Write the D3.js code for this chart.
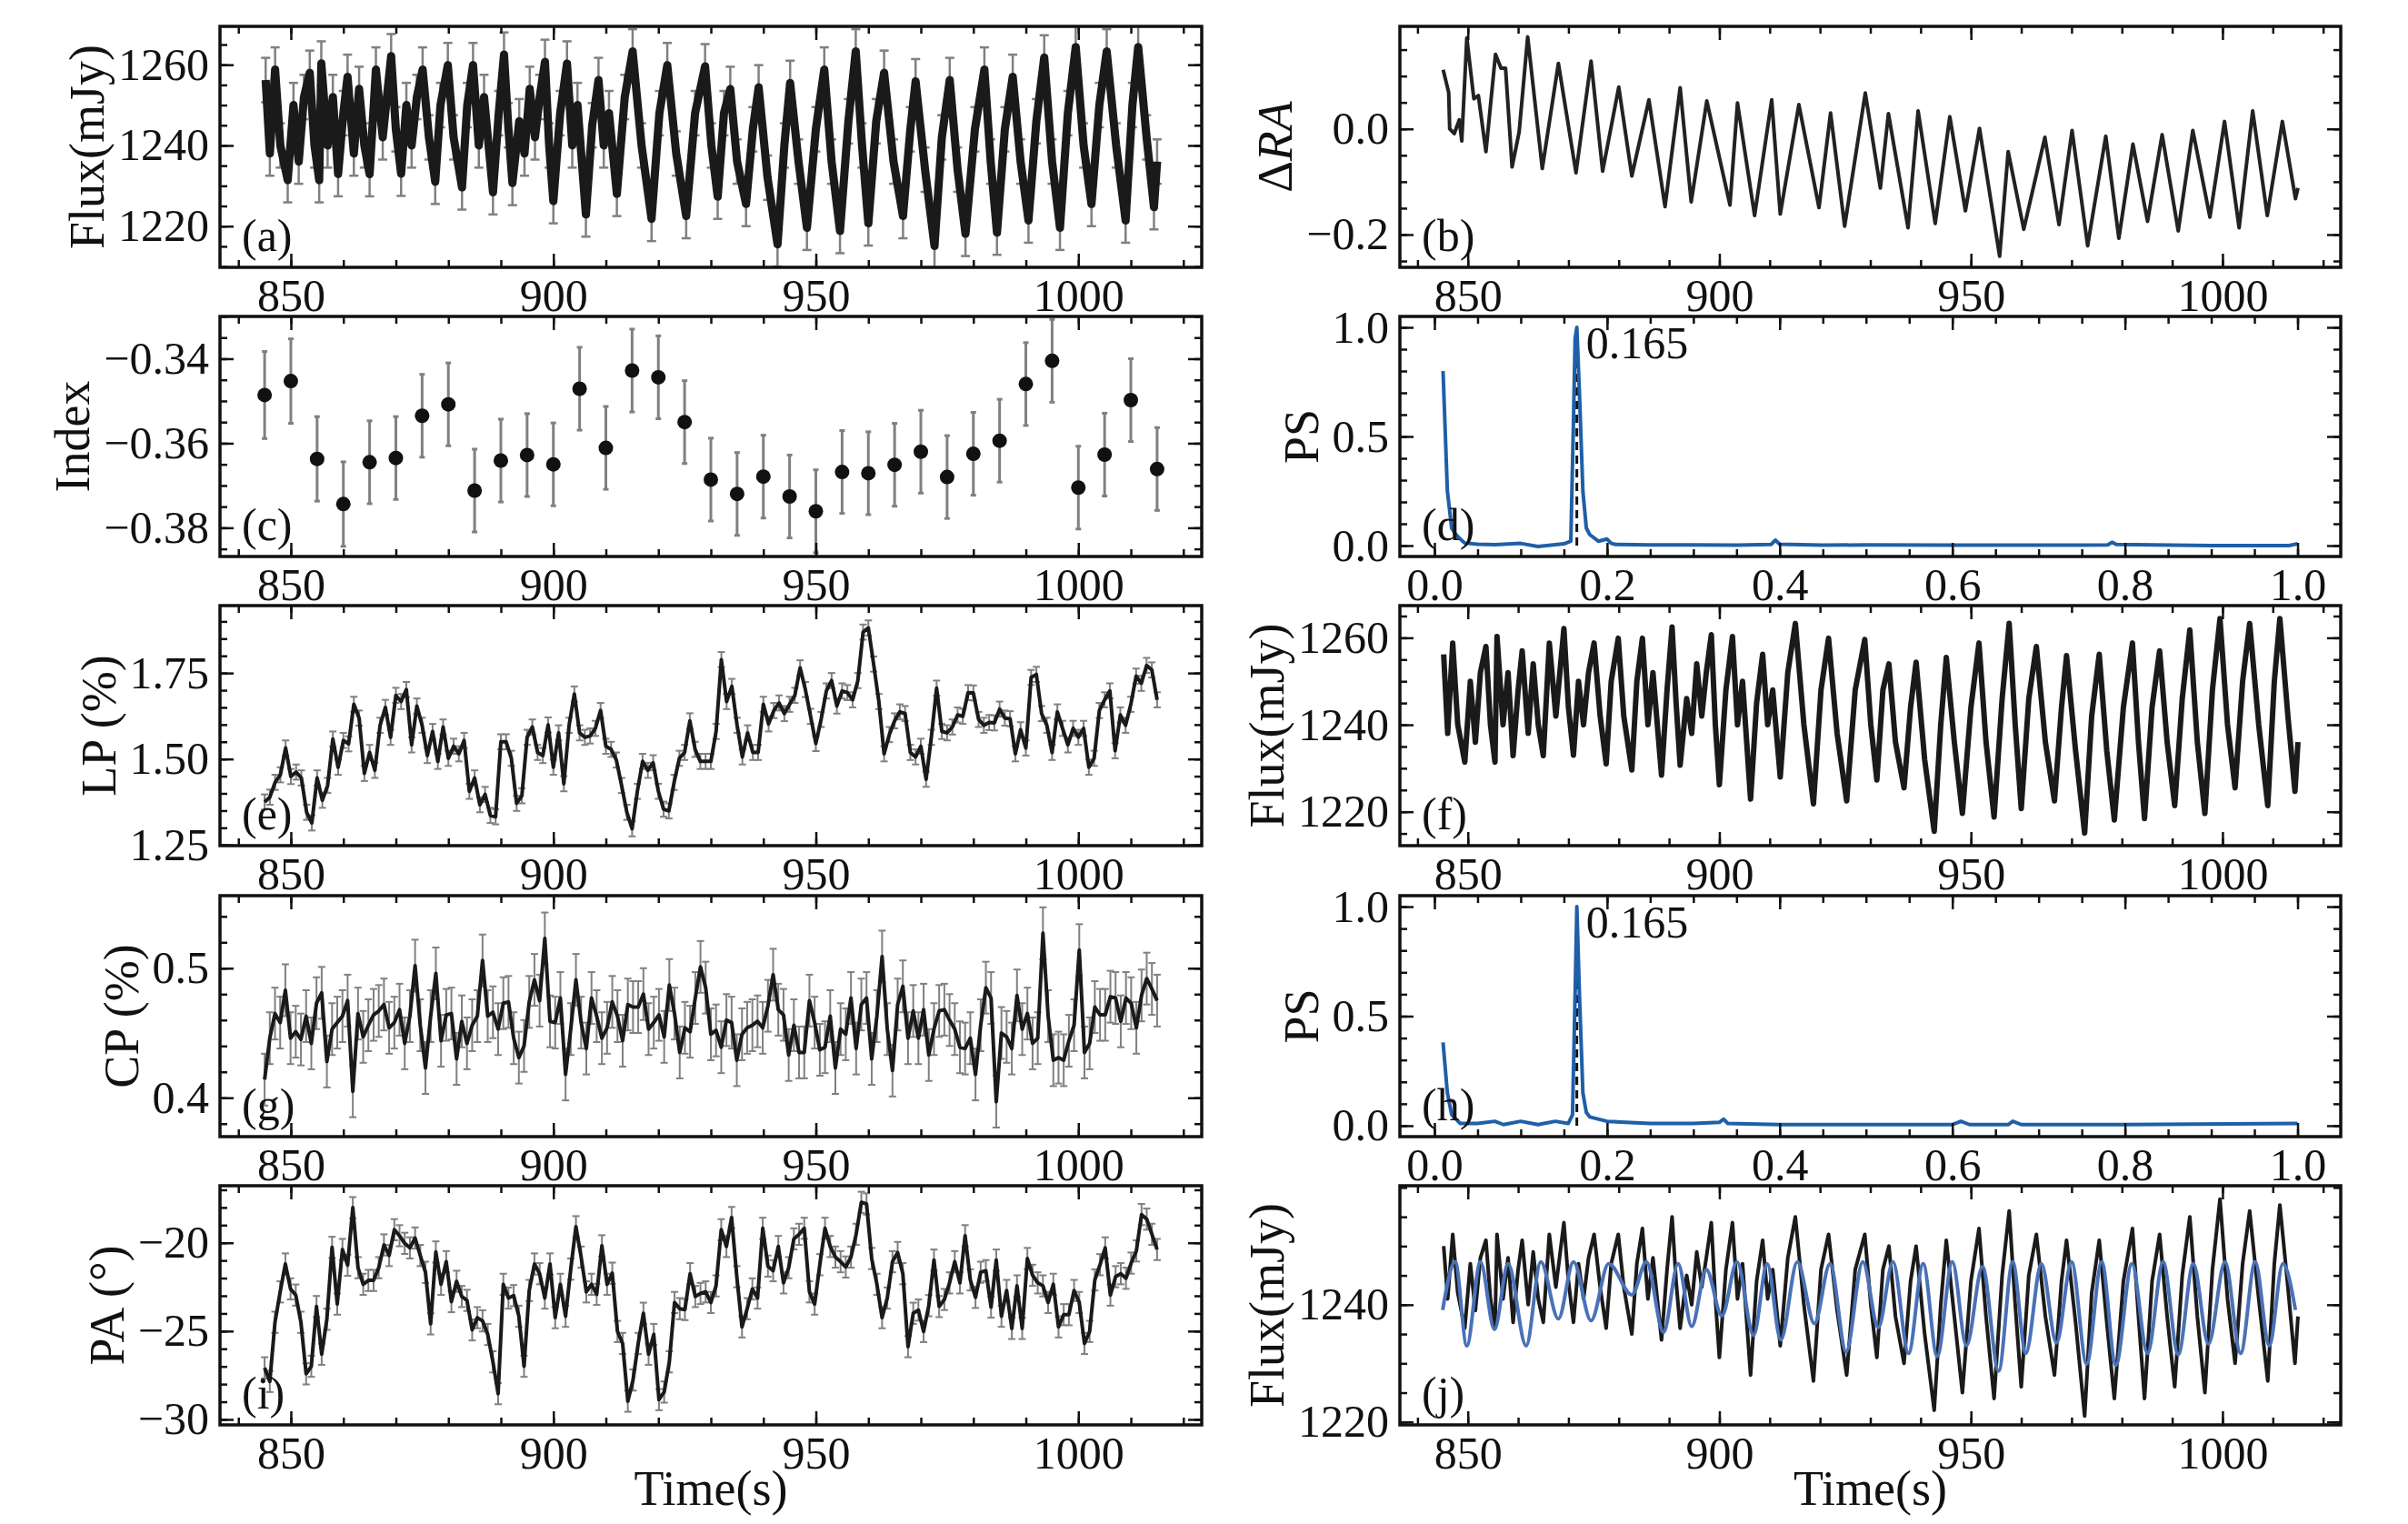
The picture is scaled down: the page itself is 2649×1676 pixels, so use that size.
<!DOCTYPE html>
<html>
<head>
<meta charset="utf-8">
<script src="https://cdn.jsdelivr.net/npm/d3@7"></script>
<style>
  body { margin: 0; background: #fff; }
  text { font-family: "Liberation Serif", "DejaVu Serif", serif; fill: #111; }
</style>
</head>
<body>
<svg id="fig" width="2649" height="1676"></svg>
<script>
// ---- data ----

// (a), (f) flux light curve: band extremes, mJy
const fluxTime = [845.2,846.0,847.0,848.0,849.4,850.5,851.5,852.5,853.6,854.5,855.4,855.8,857.0,858.0,859.0,860.0,860.8,862.0,863.0,864.0,865.0,866.2,867.5,869.1,870.0,871.0,872.0,873.0,874.0,875.1,876.3,877.5,878.5,879.9,881.0,882.6,883.6,884.7,885.8,886.8,888.5,889.6,890.6,891.4,892.2,893.5,894.5,895.5,896.5,897.4,898.4,899.2,900.0,901.3,902.6,903.6,904.6,906.2,907.4,908.6,909.6,910.6,912.1,913.6,915.1,916.8,918.7,920.2,921.7,923.4,925.3,927.0,928.9,930.1,931.3,932.5,933.7,935.0,936.7,938.0,939.1,940.8,942.7,944.0,945.1,946.7,948.3,950.0,951.6,953.0,954.6,956.2,957.6,958.8,960.0,961.5,963.0,964.8,966.6,968.0,969.0,970.8,972.6,974.0,975.5,977.0,978.5,980.3,982.1,983.3,984.5,986.0,987.5,989.0,990.5,992.0,993.5,995.0,996.5,998.0,999.5,1001.0,1002.5,1004.0,1005.4,1007.2,1009.0,1010.3,1011.4,1013.0,1014.4,1015.0];
const fluxVal = [1256.2,1238,1258.8,1240,1231.4,1250,1236,1252,1258.0,1240,1231.4,1260.3,1240,1252,1232.9,1248,1257.0,1238,1254,1240,1232.9,1258.8,1242,1262.1,1244,1233.0,1250,1240,1252,1258.8,1242,1231.0,1250,1259.9,1242,1229.6,1250,1259.9,1240,1252,1228.4,1248,1262.5,1245,1230.7,1246,1238,1254,1242,1252,1260.7,1240,1226.2,1248,1260.3,1240,1250,1222.9,1245,1256.2,1240,1248,1228.0,1252,1263.3,1240,1221.8,1248,1259.9,1238,1222.5,1248,1259.6,1240,1227.3,1248,1254.0,1236,1225.5,1244,1254.4,1232,1215.5,1240,1255.5,1236,1219.6,1244,1258.8,1236,1218.8,1246,1263.3,1240,1220.7,1246,1258.0,1236,1222.5,1244,1255.9,1234,1215.1,1242,1256.2,1234,1218.1,1244,1258.8,1236,1218.4,1244,1257.0,1236,1221.4,1246,1261.8,1236,1219.6,1248,1264.4,1240,1225.5,1250,1263.3,1240,1221.4,1250,1264.4,1242,1224.7,1236];
const fluxErr = 2.5;

// (j) smoothed flux (black), same time stamps
const fluxSmooth = [1250,1241,1252,1242,1236,1247,1239,1248,1251,1241,1236,1252,1241,1248,1237,1246,1251,1240,1249,1241,1237,1252,1243,1254,1244,1237,1247,1241,1248,1252,1243,1236,1247,1252,1243,1235,1247,1253,1241,1248,1234,1246,1255,1244,1236,1245,1240,1249,1243,1248,1254,1241,1231,1246,1254,1241,1247,1228,1244,1251,1241,1246,1233,1248,1255,1240,1227,1246,1252,1239,1228,1246,1252,1240,1231,1246,1250,1238,1230,1244,1250,1235,1222,1240,1251,1238,1225,1244,1253,1238,1224,1245,1256,1240,1226,1245,1252,1238,1228,1244,1251,1237,1221,1242,1251,1237,1224,1244,1253,1238,1224,1244,1252,1238,1226,1245,1255,1238,1225,1246,1258,1241,1230,1247,1256,1241,1227,1247,1257,1243,1230,1238];

// (b) Delta RA
const raTime = [845.1,846.2,846.4,847.3,848.3,848.8,849.8,851.2,852.1,853.6,855.5,856.6,857.5,858.8,860.2,861.9,864.8,868.0,871.5,874.5,876.8,880.0,882.6,886.0,889.2,892.2,894.4,897.5,902.1,903.6,907.0,910.4,912.1,915.8,919.8,922.1,924.9,929.0,932.0,933.6,937.5,939.5,942.9,945.8,948.9,951.7,955.7,957.4,960.5,964.7,967.5,970.1,973.2,976.8,979.4,982.2,985.1,988.0,991.2,994.1,997.5,1000.4,1003.3,1006.0,1008.9,1011.9,1014.5,1015.0];
const raVal = [0.112,0.069,0.0,-0.009,0.017,-0.023,0.172,0.057,0.063,-0.043,0.141,0.115,0.115,-0.072,-0.006,0.174,-0.075,0.124,-0.083,0.128,-0.08,0.079,-0.089,0.055,-0.147,0.078,-0.138,0.053,-0.144,0.049,-0.164,0.055,-0.161,0.046,-0.149,0.03,-0.184,0.068,-0.112,0.029,-0.187,0.034,-0.179,0.023,-0.155,0.001,-0.241,-0.043,-0.19,-0.016,-0.181,-0.003,-0.221,-0.014,-0.207,-0.029,-0.175,-0.011,-0.193,-0.003,-0.167,0.014,-0.187,0.034,-0.164,0.014,-0.132,-0.112];

// (c) spectral index, 5 s bins
const indexTime = [845,850,855,860,865,870,875,880,885,890,895,900,905,910,915,920,925,930,935,940,945,950,955,960,965,970,975,980,985,990,995,1000,1005,1010,1015];
const indexVal = [-0.3486,-0.3453,-0.3637,-0.3744,-0.3645,-0.3635,-0.3535,-0.3508,-0.3712,-0.3641,-0.3628,-0.365,-0.3471,-0.3611,-0.3428,-0.3444,-0.355,-0.3686,-0.372,-0.3679,-0.3726,-0.3761,-0.3668,-0.3671,-0.3651,-0.362,-0.368,-0.3625,-0.3594,-0.346,-0.3405,-0.3705,-0.3627,-0.3498,-0.3661];
const indexErr = [0.0103,0.0100,0.0100,0.0100,0.0098,0.0098,0.0098,0.0098,0.0098,0.0098,0.0098,0.0098,0.0098,0.0098,0.0098,0.0098,0.0098,0.0098,0.0098,0.0098,0.0098,0.0098,0.0098,0.0098,0.0098,0.0098,0.0098,0.0098,0.0098,0.0098,0.0098,0.0098,0.0098,0.0098,0.0098];

// (e) linear polarisation %, ~1 s samples from 845 s to 1015 s
const lpVal = [1.375,1.389,1.432,1.454,1.532,1.449,1.462,1.445,1.345,1.314,1.445,1.380,1.423,1.558,1.476,1.554,1.544,1.659,1.619,1.458,1.519,1.467,1.598,1.650,1.563,1.685,1.667,1.702,1.541,1.654,1.598,1.510,1.580,1.493,1.593,1.502,1.537,1.515,1.554,1.406,1.445,1.367,1.397,1.336,1.332,1.550,1.550,1.502,1.371,1.393,1.563,1.593,1.519,1.510,1.599,1.476,1.576,1.428,1.598,1.689,1.576,1.563,1.567,1.589,1.641,1.537,1.528,1.497,1.423,1.345,1.297,1.406,1.493,1.467,1.489,1.406,1.354,1.349,1.432,1.502,1.519,1.611,1.528,1.493,1.493,1.493,1.580,1.789,1.667,1.711,1.598,1.506,1.576,1.519,1.519,1.659,1.602,1.641,1.663,1.632,1.659,1.685,1.765,1.702,1.624,1.545,1.615,1.698,1.728,1.654,1.698,1.693,1.672,1.728,1.869,1.881,1.776,1.667,1.515,1.571,1.611,1.637,1.632,1.519,1.506,1.537,1.441,1.563,1.706,1.580,1.576,1.593,1.628,1.624,1.693,1.692,1.615,1.598,1.606,1.605,1.645,1.619,1.617,1.515,1.585,1.532,1.737,1.746,1.632,1.598,1.519,1.637,1.589,1.541,1.589,1.563,1.589,1.476,1.502,1.641,1.672,1.698,1.524,1.628,1.598,1.659,1.741,1.720,1.772,1.759,1.672];
const lpErr = 0.022;

// (g) circular polarisation %
const cpVal = [0.414,0.446,0.465,0.458,0.483,0.446,0.451,0.445,0.463,0.442,0.473,0.481,0.428,0.453,0.458,0.463,0.475,0.405,0.465,0.447,0.456,0.464,0.467,0.472,0.454,0.458,0.468,0.442,0.463,0.502,0.456,0.423,0.463,0.496,0.444,0.464,0.465,0.430,0.459,0.442,0.456,0.463,0.506,0.463,0.466,0.453,0.473,0.474,0.446,0.431,0.440,0.474,0.491,0.475,0.523,0.459,0.458,0.477,0.418,0.453,0.491,0.458,0.438,0.477,0.463,0.446,0.454,0.474,0.463,0.444,0.472,0.470,0.470,0.480,0.453,0.458,0.464,0.447,0.487,0.465,0.435,0.454,0.451,0.477,0.501,0.485,0.449,0.452,0.439,0.460,0.458,0.429,0.449,0.454,0.456,0.459,0.454,0.471,0.495,0.468,0.464,0.433,0.456,0.435,0.435,0.475,0.458,0.437,0.439,0.463,0.423,0.453,0.449,0.477,0.438,0.472,0.477,0.430,0.463,0.509,0.453,0.421,0.472,0.486,0.446,0.467,0.446,0.468,0.433,0.453,0.467,0.468,0.460,0.453,0.439,0.438,0.446,0.418,0.456,0.485,0.477,0.397,0.450,0.447,0.438,0.479,0.453,0.465,0.442,0.446,0.527,0.463,0.429,0.431,0.429,0.444,0.456,0.514,0.435,0.442,0.470,0.464,0.464,0.478,0.477,0.459,0.477,0.473,0.454,0.479,0.492,0.484,0.475];
const cpErr = 0.02;

// (i) polarisation angle, degrees
const paVal = [-27.08,-27.85,-24.50,-22.78,-21.20,-22.61,-22.96,-24.50,-27.42,-26.99,-23.61,-26.31,-24.33,-20.26,-23.47,-20.38,-21.27,-18.01,-21.41,-22.35,-22.13,-22.13,-21.41,-20.12,-20.72,-19.26,-19.60,-20.03,-20.29,-19.73,-20.72,-21.67,-24.59,-20.52,-22.35,-21.07,-23.33,-22.18,-23.04,-23.26,-24.93,-24.24,-24.42,-25.19,-26.74,-28.54,-22.35,-23.13,-22.99,-24.16,-26.99,-22.70,-21.20,-21.75,-23.13,-21.20,-24.24,-22.35,-24.16,-21.49,-19.09,-20.81,-22.78,-22.35,-22.92,-20.17,-22.35,-21.72,-25.02,-25.70,-28.97,-27.77,-25.70,-23.99,-26.31,-25.19,-28.88,-28.45,-26.74,-23.38,-23.73,-23.78,-21.75,-23.04,-22.87,-22.78,-23.38,-22.44,-19.26,-20.21,-18.57,-21.92,-24.76,-23.73,-22.61,-23.13,-19.18,-21.32,-21.58,-20.21,-22.27,-21.41,-19.78,-19.52,-19.18,-22.78,-23.47,-21.24,-19.18,-20.21,-20.81,-21.07,-21.37,-20.81,-19.52,-17.71,-17.80,-20.89,-22.35,-24.24,-23.13,-21.07,-20.55,-21.75,-25.88,-23.99,-23.81,-25.02,-23.56,-20.98,-23.61,-23.21,-22.27,-21.07,-22.27,-19.60,-22.10,-23.09,-21.67,-21.58,-23.64,-20.98,-24.16,-22.70,-24.85,-22.44,-24.85,-20.89,-21.84,-22.27,-22.44,-23.38,-22.35,-24.76,-24.07,-24.07,-22.70,-23.38,-25.70,-25.02,-22.10,-21.24,-20.29,-22.96,-21.92,-21.75,-22.01,-21.15,-20.46,-18.40,-18.66,-19.52,-20.38];
const paErr = 0.6;

// (d) and (h) normalised power spectra
const psFreqD = [0.01,0.015,0.02,0.025,0.03,0.035,0.05,0.07,0.1,0.12,0.15,0.158,0.161,0.163,0.165,0.168,0.172,0.176,0.18,0.19,0.2,0.205,0.21,0.25,0.3,0.35,0.39,0.395,0.4,0.45,0.5,0.6,0.7,0.78,0.785,0.79,0.9,0.99,1.0];
const psPowD = [0.80,0.25,0.08,0.05,0.03,0.012,0.006,0.004,0.01,-0.004,0.008,0.02,0.55,0.95,1.0,0.7,0.25,0.08,0.05,0.02,0.03,0.01,0.005,0.003,0.003,0.002,0.005,0.025,0.006,0.002,0.003,0.002,0.002,0.003,0.015,0.005,0.0,0.0,0.008];
const psFreqH = [0.01,0.015,0.02,0.03,0.05,0.07,0.08,0.1,0.12,0.14,0.155,0.16,0.163,0.165,0.168,0.172,0.176,0.18,0.2,0.25,0.3,0.33,0.335,0.34,0.4,0.5,0.6,0.61,0.62,0.665,0.67,0.68,0.8,1.0];
const psPowH = [0.38,0.15,0.05,0.01,0.01,0.02,0.005,0.02,0.005,0.02,0.01,0.05,0.6,1.0,0.6,0.15,0.06,0.04,0.02,0.01,0.01,0.015,0.03,0.01,0.005,0.005,0.005,0.02,0.005,0.005,0.02,0.005,0.005,0.01];
const peakFreq = 0.165;

// (j) model curve (blue)
const modelTime = [845,847.5,849.8,852.5,855.3,858,861.6,864.5,868,871,874.5,878,882.6,885.5,888.9,891.8,894.5,897.4,900.5,903.5,906.8,909.5,912.2,915.5,918.9,922,925.2,928.5,931.6,934.5,937.6,940.5,943.3,946.3,949.1,952.3,955.5,958.3,960.9,964,967,970,973,976,978.8,982,985.1,988.2,991.2,994.2,997.2,1000.5,1003.6,1006.5,1009.3,1012,1014.5];
const modelVal = [1239.1,1247.3,1233,1247.3,1235.8,1247,1233,1247.3,1237.6,1247.3,1237.3,1247,1241.7,1247.3,1235.3,1247,1236.3,1246,1238.1,1247.3,1234.8,1247,1234,1247.3,1236.8,1247,1232,1247.3,1236.1,1247.3,1231.7,1247,1231.2,1247.3,1233,1246.5,1228.7,1247.3,1231.7,1247,1233.5,1247.3,1229.9,1247.3,1229.7,1247,1231.7,1247.3,1231.5,1247,1233.3,1247.3,1231.7,1247.3,1233,1247,1239.1];

// ---- drawing ----
const svg = d3.select("#fig");
const FS = 50;
const COLS = [[242, 1322], [1540, 2575]];
const ROWS = [[29, 294], [348, 612], [666, 930], [985, 1250], [1304, 1567]];
const TIME_DOMAIN = [836.5, 1023.5];
const PS_DOMAIN = [-0.04, 1.05];
const evenTimes = n => d3.range(n).map(i => 845 + i * 170 / (n - 1));
let clipId = 0;

function panel(col, row, o) {
  const [x0, x1] = COLS[col], [y0, y1] = ROWS[row];
  const x = d3.scaleLinear().domain(o.xd).range([x0, x1]);
  const y = d3.scaleLinear().domain(o.yd).range([y1, y0]);
  const g = svg.append("g");
  const id = "clip" + (clipId++);
  g.append("clipPath").attr("id", id).append("rect")
    .attr("x", x0).attr("y", y0).attr("width", x1 - x0).attr("height", y1 - y0);
  const plot = g.append("g").attr("clip-path", `url(#${id})`);

  const ax = (gen, tr, vals, size, fmt) => {
    const a = g.append("g").attr("transform", tr)
      .call(gen.tickValues(vals).tickSizeInner(-size).tickSizeOuter(0).tickPadding(12).tickFormat(fmt));
    a.select(".domain").remove();
    a.selectAll("line").attr("stroke", "#111").attr("stroke-width", 2.5);
    a.selectAll("text").style("font-size", FS + "px").style("font-family", "Liberation Serif");
    return a;
  };
  const none = () => "";
  ax(d3.axisBottom(x), `translate(0,${y1})`, o.xMajor, 15, o.xFmt);
  ax(d3.axisBottom(x), `translate(0,${y1})`, o.xMinor, 8, none);
  ax(d3.axisTop(x), `translate(0,${y0})`, o.xMajor, 15, none);
  ax(d3.axisTop(x), `translate(0,${y0})`, o.xMinor, 8, none);
  const yl = ax(d3.axisLeft(y), `translate(${x0},0)`, o.yMajor, 15, o.yFmt);
  ax(d3.axisLeft(y), `translate(${x0},0)`, o.yMinor, 8, none);
  ax(d3.axisRight(y), `translate(${x1},0)`, o.yMajor, 15, none);
  ax(d3.axisRight(y), `translate(${x1},0)`, o.yMinor, 8, none);

  g.append("rect").attr("x", x0).attr("y", y0).attr("width", x1 - x0).attr("height", y1 - y0)
    .attr("fill", "none").attr("stroke", "#111").attr("stroke-width", 3.5);

  // y label sits just left of the tick labels, like matplotlib
  const bb = yl.node().getBBox();
  const lab = g.append("text").attr("text-anchor", "middle")
    .attr("transform", `translate(${x0 + bb.x - 16},${(y0 + y1) / 2}) rotate(-90)`)
    .style("font-size", (FS + 4) + "px");
  o.label(lab);

  g.append("text").attr("x", x0 + 24).attr("y", y1 - 18).style("font-size", FS + "px").text(o.tag);
  return { x, y, plot };
}

function errLines(p, xs, ys, errs, cap, w) {
  const e = p.plot.append("g").attr("stroke", "#808080").attr("stroke-width", w);
  xs.forEach((t, i) => {
    const er = Array.isArray(errs) ? errs[i] : errs;
    const X = p.x(t), Ya = p.y(ys[i] - er), Yb = p.y(ys[i] + er);
    e.append("line").attr("x1", X).attr("x2", X).attr("y1", Ya).attr("y2", Yb);
    e.append("line").attr("x1", X - cap).attr("x2", X + cap).attr("y1", Ya).attr("y2", Ya);
    e.append("line").attr("x1", X - cap).attr("x2", X + cap).attr("y1", Yb).attr("y2", Yb);
  });
}

function line(p, xs, ys, color, w) {
  p.plot.append("path")
    .attr("d", d3.line().x((d, i) => p.x(xs[i])).y(d => p.y(d))(ys))
    .attr("fill", "none").attr("stroke", color).attr("stroke-width", w)
    .attr("stroke-linejoin", "round");
}

const tMaj = [850, 900, 950, 1000], tMin = d3.range(840, 1021, 10);
const psMaj = [0, 0.2, 0.4, 0.6, 0.8, 1.0], psMin = d3.range(0, 1.001, 0.05);
const fluxLabel = t => t.text("Flux(mJy)");
const timeAxes = { xd: TIME_DOMAIN, xMajor: tMaj, xMinor: tMin, xFmt: d3.format("d") };
const psAxes = { xd: PS_DOMAIN, xMajor: psMaj, xMinor: psMin, xFmt: d3.format(".1f"),
  yd: [-0.05, 1.05], yMajor: [0, 0.5, 1.0], yMinor: d3.range(0, 1.001, 0.1), yFmt: d3.format(".1f"),
  label: t => t.text("PS") };

// (a)
let p = panel(0, 0, { ...timeAxes, yd: [1209.8, 1269.5], yMajor: [1220, 1240, 1260],
  yMinor: d3.range(1210, 1270, 5), yFmt: d3.format("d"), label: fluxLabel, tag: "(a)" });
errLines(p, fluxTime, fluxVal, fluxErr + 3, 5, 2.5);
line(p, fluxTime, fluxVal, "#1a1a1a", 9);

// (b)
p = panel(1, 0, { ...timeAxes, yd: [-0.262, 0.194], yMajor: [-0.2, 0.0],
  yMinor: d3.range(-0.25, 0.2, 0.05), yFmt: d3.format(".1f"),
  label: t => { t.append("tspan").text("Δ"); t.append("tspan").style("font-style", "italic").text("RA"); },
  tag: "(b)" });
line(p, raTime, raVal, "#222", 4);

// (c)
p = panel(0, 1, { ...timeAxes, yd: [-0.3868, -0.330], yMajor: [-0.38, -0.36, -0.34],
  yMinor: d3.range(-0.385, -0.3299, 0.005), yFmt: d3.format(".2f"), label: t => t.text("Index"), tag: "(c)" });
errLines(p, indexTime, indexVal, indexErr, 3, 3);
p.plot.selectAll("circle.ix").data(indexVal).join("circle")
  .attr("cx", (d, i) => p.x(indexTime[i])).attr("cy", d => p.y(d)).attr("r", 8).attr("fill", "#111");

// (d) and (h)
function psPanel(row, fr, pw, tag) {
  const q = panel(1, row, { ...psAxes, tag });
  q.plot.append("line").attr("x1", q.x(peakFreq)).attr("x2", q.x(peakFreq))
    .attr("y1", q.y(0)).attr("y2", q.y(1.0)).attr("stroke", "#111").attr("stroke-width", 3)
    .attr("stroke-dasharray", "9,6");
  line(q, fr, pw, "#1f5fa8", 4);
  svg.append("text").attr("x", q.x(peakFreq) + 10).attr("y", q.y(0.86))
    .style("font-size", FS + "px").text(peakFreq.toFixed(3));
}
psPanel(1, psFreqD, psPowD, "(d)");

// (e)
p = panel(0, 2, { ...timeAxes, yd: [1.248, 1.946], yMajor: [1.25, 1.5, 1.75],
  yMinor: d3.range(1.25, 1.95, 0.05), yFmt: d3.format(".2f"), label: t => t.text("LP (%)"), tag: "(e)" });
errLines(p, evenTimes(lpVal.length), lpVal, lpErr, 4, 2);
line(p, evenTimes(lpVal.length), lpVal, "#1a1a1a", 4);

// (f)
p = panel(1, 2, { ...timeAxes, yd: [1212.2, 1267.4], yMajor: [1220, 1240, 1260],
  yMinor: d3.range(1215, 1266, 5), yFmt: d3.format("d"), label: fluxLabel, tag: "(f)" });
line(p, fluxTime, fluxVal, "#1a1a1a", 6);

// (g)
p = panel(0, 3, { ...timeAxes, yd: [0.370, 0.556], yMajor: [0.4, 0.5],
  yMinor: d3.range(0.38, 0.555, 0.02), yFmt: d3.format(".1f"), label: t => t.text("CP (%)"), tag: "(g)" });
errLines(p, evenTimes(cpVal.length), cpVal, cpErr, 4, 2);
line(p, evenTimes(cpVal.length), cpVal, "#1a1a1a", 4);

// (h)
psPanel(3, psFreqH, psPowH, "(h)");

// (i)
p = panel(0, 4, { ...timeAxes, yd: [-30.31, -16.77], yMajor: [-30, -25, -20],
  yMinor: d3.range(-30, -16.5, 1), yFmt: d3.format("d"), label: t => t.text("PA (°)"), tag: "(i)" });
errLines(p, evenTimes(paVal.length), paVal, paErr, 4, 2);
line(p, evenTimes(paVal.length), paVal, "#1a1a1a", 4);

// (j)
p = panel(1, 4, { ...timeAxes, yd: [1219.5, 1260.3], yMajor: [1220, 1240],
  yMinor: d3.range(1220, 1260.1, 5), yFmt: d3.format("d"), label: fluxLabel, tag: "(j)" });
line(p, fluxTime, fluxSmooth, "#1a1a1a", 4);
p.plot.append("path")
  .attr("d", d3.line().curve(d3.curveMonotoneX).x((d, i) => p.x(modelTime[i])).y(d => p.y(d))(modelVal))
  .attr("fill", "none").attr("stroke", "#4a72b8").attr("stroke-width", 4);

// x labels
[0, 1].forEach(c => svg.append("text").attr("x", (COLS[c][0] + COLS[c][1]) / 2).attr("y", 1655)
  .attr("text-anchor", "middle").style("font-size", (FS + 4) + "px").text("Time(s)"));
</script>
</body>
</html>
